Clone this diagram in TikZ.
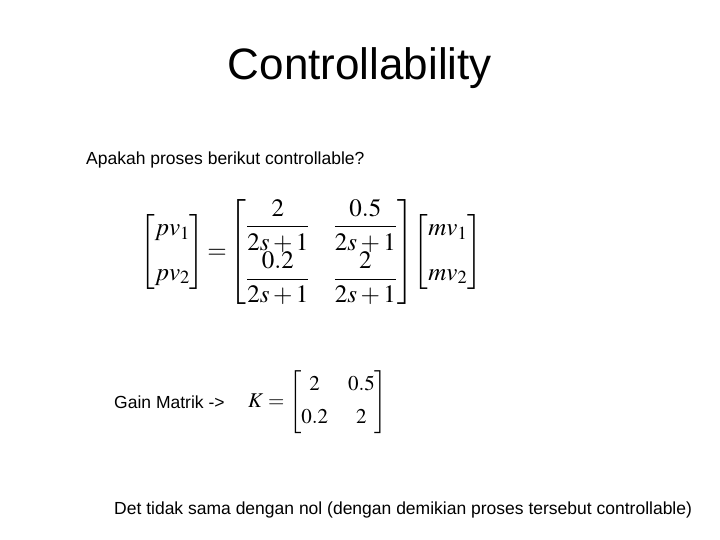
\documentclass[tikz,border=0pt]{standalone}
\usepackage{amsmath}
\usepackage{mathptmx}
\usepackage{fontspec}
\setmainfont{Liberation Sans}
\begin{document}
\begin{tikzpicture}[x=1pt,y=-1pt]
\useasboundingbox (0,0) rectangle (720,540);
\tikzset{txt/.style={inner sep=0pt,font=\fontsize{17.5}{21}\selectfont}}
\node[inner sep=0pt,font=\fontsize{44}{50}\selectfont] (title) at (360,68) {Controllability};
\node[txt,anchor=west] (q) at (86,160) {Apakah proses berikut controllable?};
\node[inner sep=0pt,font=\fontsize{25}{30}\selectfont] (m) at (311,252) {$\setlength{\arraycolsep}{12pt}\left[\begin{matrix}pv_1\\[14pt] pv_2\end{matrix}\right]\!=\!\left[\begin{matrix}\dfrac{2}{2s+1}&\dfrac{0.5}{2s+1}\\[8pt] \dfrac{0.2}{2s+1}&\dfrac{2}{2s+1}\end{matrix}\right]\!\left[\begin{matrix}mv_1\\[14pt] mv_2\end{matrix}\right]$};
\node[txt,anchor=west] (g) at (114,402) {Gain Matrik ->};
\node[inner sep=0pt,font=\fontsize{21}{25}\selectfont,anchor=west] (k) at (248,402) {$\setlength{\arraycolsep}{10pt}K=\left[\begin{matrix}2&0.5\\[8pt] 0.2&2\end{matrix}\right]$};
\node[txt,anchor=west] (d) at (114,510) {Det tidak sama dengan nol (dengan demikian proses tersebut controllable)};
\end{tikzpicture}
\end{document}
